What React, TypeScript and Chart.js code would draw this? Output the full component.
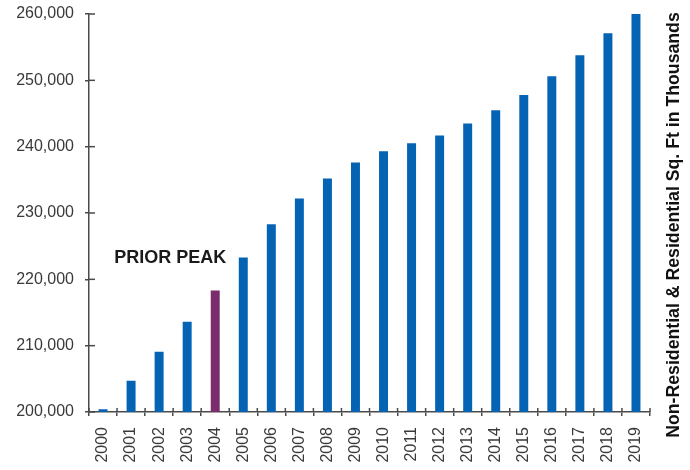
import React, { useEffect, useRef } from "react";
import { Chart, registerables } from "chart.js";

Chart.register(...registerables);

// Total square footage by year (thousands)
const years: string[] = [
  "2000", "2001", "2002", "2003", "2004", "2005", "2006", "2007", "2008", "2009",
  "2010", "2011", "2012", "2013", "2014", "2015", "2016", "2017", "2018", "2019",
];
const sqFt: number[] = [
  200400, 204700, 209100, 213600, 218300, 223300, 228300, 232200, 235200, 237600,
  239300, 240500, 241700, 243500, 245500, 247800, 250600, 253800, 257100, 260000,
];
const peakYear = "2004";
const peakLabel = "PRIOR PEAK";
const axisTitle = "Non-Residential & Residential Sq. Ft in Thousands";
const yMin = 200000;
const yMax = 260000;
const yStep = 10000;

const BLUE = "#0563B4";
const PURPLE = "#7B2C6C";
const AXIS = "#4a4a4a";
const FONT = "'Liberation Sans', Arial, sans-serif";

// Tick marks that cross the axis lines, the annotation and the right-hand title
const decorations = {
  id: "decorations",
  afterDraw(chart: any) {
    const { ctx, chartArea, scales } = chart;
    const x = scales.x;
    const y = scales.y;
    ctx.save();
    ctx.strokeStyle = AXIS;
    ctx.lineWidth = 1.5;
    // inward part of y ticks
    y.ticks.forEach((_t: any, i: number) => {
      const py = y.getPixelForTick(i);
      ctx.beginPath();
      ctx.moveTo(chartArea.left, py);
      ctx.lineTo(chartArea.left + 6, py);
      ctx.stroke();
    });
    // inward part of x ticks (category boundaries)
    const n = years.length;
    const step = (chartArea.right - chartArea.left) / n;
    for (let i = 0; i <= n; i++) {
      const px = chartArea.left + i * step;
      ctx.beginPath();
      ctx.moveTo(px, chartArea.bottom);
      ctx.lineTo(px, chartArea.bottom - 4);
      ctx.stroke();
    }

    // annotation next to the peak bar
    const peakIdx = years.indexOf(peakYear);
    ctx.fillStyle = "#1a1a1a";
    ctx.font = `bold 18px ${FONT}`;
    ctx.textAlign = "right";
    ctx.textBaseline = "alphabetic";
    ctx.fillText(peakLabel, x.getPixelForValue(peakIdx) + 11, y.getPixelForValue(222500));

    // rotated title on the right side
    ctx.translate(chart.width - 16, (chartArea.top + chartArea.bottom) / 2 + 12);
    ctx.rotate(-Math.PI / 2);
    ctx.font = `bold 17.7px ${FONT}`;
    ctx.textAlign = "center";
    ctx.textBaseline = "middle";
    ctx.fillStyle = "#111";
    ctx.fillText(axisTitle, 0, 0);
    ctx.restore();
  },
};

export default function App() {
  const ref = useRef<HTMLCanvasElement | null>(null);

  useEffect(() => {
    if (!ref.current) return;
    const chart = new Chart(ref.current, {
      type: "bar",
      data: {
        labels: years,
        datasets: [
          {
            data: sqFt,
            backgroundColor: years.map((yr) => (yr === peakYear ? PURPLE : BLUE)),
            categoryPercentage: 1,
            barPercentage: 0.32,
          },
        ],
      },
      options: {
        animation: false,
        responsive: false,
        maintainAspectRatio: false,
        layout: { padding: { top: 0, right: 40, left: 0, bottom: 0 } },
        plugins: {
          legend: { display: false },
          tooltip: { enabled: false },
        },
        scales: {
          x: {
            grid: {
              display: true,
              drawOnChartArea: false,
              drawTicks: true,
              tickLength: 4,
              color: AXIS,
              lineWidth: 1.5,
              offset: true,
            },
            border: { display: true, color: AXIS, width: 1.5 },
            ticks: {
              minRotation: 90,
              maxRotation: 90,
              padding: 11,
              color: "#3a3a3a",
              font: { family: FONT, size: 16 },
            },
            afterFit(scale: any) {
              scale.height = 58;
            },
          },
          y: {
            min: yMin,
            max: yMax,
            grid: {
              display: true,
              drawOnChartArea: false,
              drawTicks: true,
              tickLength: 4,
              color: AXIS,
              lineWidth: 1.5,
            },
            border: { display: true, color: AXIS, width: 1.5 },
            ticks: {
              stepSize: yStep,
              padding: 11,
              color: "#3a3a3a",
              font: { family: FONT, size: 16 },
              callback: (v: any) => Number(v).toLocaleString("en-US"),
            },
            afterFit(scale: any) {
              scale.width = 89;
              scale.paddingTop = 14;
            },
          },
        },
      },
      plugins: [decorations],
    });
    return () => chart.destroy();
  }, []);

  return (
    <div style={{ position: "fixed", left: 0, top: 0, width: 690, height: 470, background: "#fff" }}>
      <canvas ref={ref} width={690} height={470} style={{ width: 690, height: 470, display: "block" }} />
    </div>
  );
}
